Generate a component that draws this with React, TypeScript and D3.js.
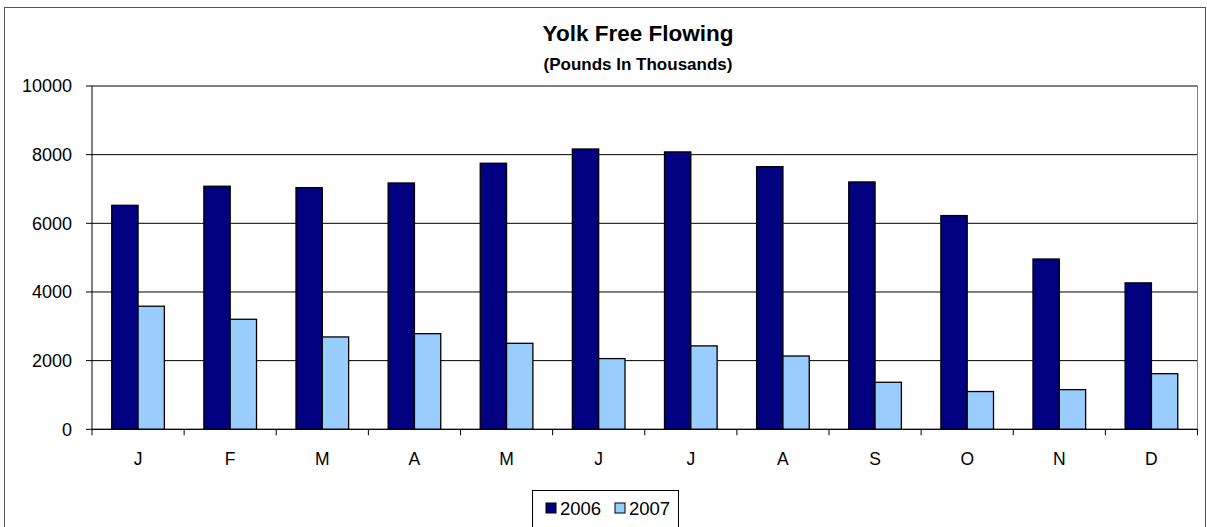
import React from "react";
import * as d3 from "d3";

const months = ["J", "F", "M", "A", "M", "J", "J", "A", "S", "O", "N", "D"];
const seriesNames = ["2006", "2007"];
const values2006 = [6525, 7080, 7040, 7175, 7750, 8165, 8080, 7650, 7205, 6225, 4960, 4265];
const values2007 = [3585, 3205, 2690, 2785, 2505, 2060, 2430, 2135, 1370, 1100, 1155, 1620];
const yTicks = [0, 2000, 4000, 6000, 8000, 10000];
const colors = ["#000080", "#99CCFF"];

const W = 1207;
const H = 527;
const FONT = "Arial, 'Liberation Sans', sans-serif";

export default function App() {
  const left = 92;
  const right = 1197.5;
  const top = 86;
  const bottom = 429.3;

  const x = d3.scaleBand<number>().domain(d3.range(months.length)).range([left, right]).padding(0);
  const bw = x.bandwidth();
  const inner = d3.scaleBand<string>().domain(seriesNames).range([0, bw]).paddingInner(0).paddingOuter(0.75);
  const y = d3.scaleLinear().domain([0, 10000]).range([bottom, top]);
  const data = [values2006, values2007];

  return (
    <svg width={W} height={H} style={{ position: "absolute", left: 0, top: 0 }} fontFamily={FONT}>
      <rect x={0} y={0} width={W} height={H} fill="#fff" />
      <rect x={4.5} y={7.5} width={1201} height={540} fill="none" stroke="#555" strokeWidth={1} />
      <text x={638} y={41} textAnchor="middle" fontSize={22.5} fontWeight="bold">Yolk Free Flowing</text>
      <text x={638} y={69.5} textAnchor="middle" fontSize={17} fontWeight="bold">(Pounds In Thousands)</text>

      {yTicks.map((t) => (
        <g key={t}>
          <line x1={left} x2={right} y1={y(t)} y2={y(t)} stroke="#000" strokeWidth={1} />
          <line x1={left - 6} x2={left} y1={y(t)} y2={y(t)} stroke="#000" strokeWidth={1} />
          <text x={72} y={y(t)} dy="0.35em" textAnchor="end" fontSize={18}>{t}</text>
        </g>
      ))}
      <line x1={right} x2={right} y1={top} y2={bottom} stroke="#808080" strokeWidth={1} />

      {data.map((vals, si) =>
        vals.map((v, i) => (
          <rect
            key={`${si}-${i}`}
            x={(x(i) as number) + (inner(seriesNames[si]) as number)}
            y={y(v)}
            width={inner.bandwidth()}
            height={bottom - y(v)}
            fill={colors[si]}
            stroke="#000"
            strokeWidth={1.3}
          />
        ))
      )}

      <line x1={left} x2={left} y1={top} y2={bottom} stroke="#000" strokeWidth={1} />
      <line x1={left} x2={right} y1={bottom} y2={bottom} stroke="#000" strokeWidth={1} />
      {d3.range(months.length + 1).map((i) => {
        const xx = left + i * bw;
        return <line key={i} x1={xx} x2={xx} y1={bottom} y2={bottom + 6} stroke="#000" strokeWidth={1} />;
      })}
      {months.map((m, i) => (
        <text key={i} x={(x(i) as number) + bw / 2} y={465} textAnchor="middle" fontSize={17.5}>{m}</text>
      ))}

      <rect x={532.5} y={490.5} width={146} height={60} fill="#fff" stroke="#000" strokeWidth={1} />
      {seriesNames.map((s, i) => {
        const lx = 546 + i * 69;
        return (
          <g key={s}>
            <rect x={lx} y={503} width={10} height={10} fill={colors[i]} stroke="#000" strokeWidth={1} />
            <text x={lx + 14} y={515} fontSize={18.5}>{s}</text>
          </g>
        );
      })}
    </svg>
  );
}
